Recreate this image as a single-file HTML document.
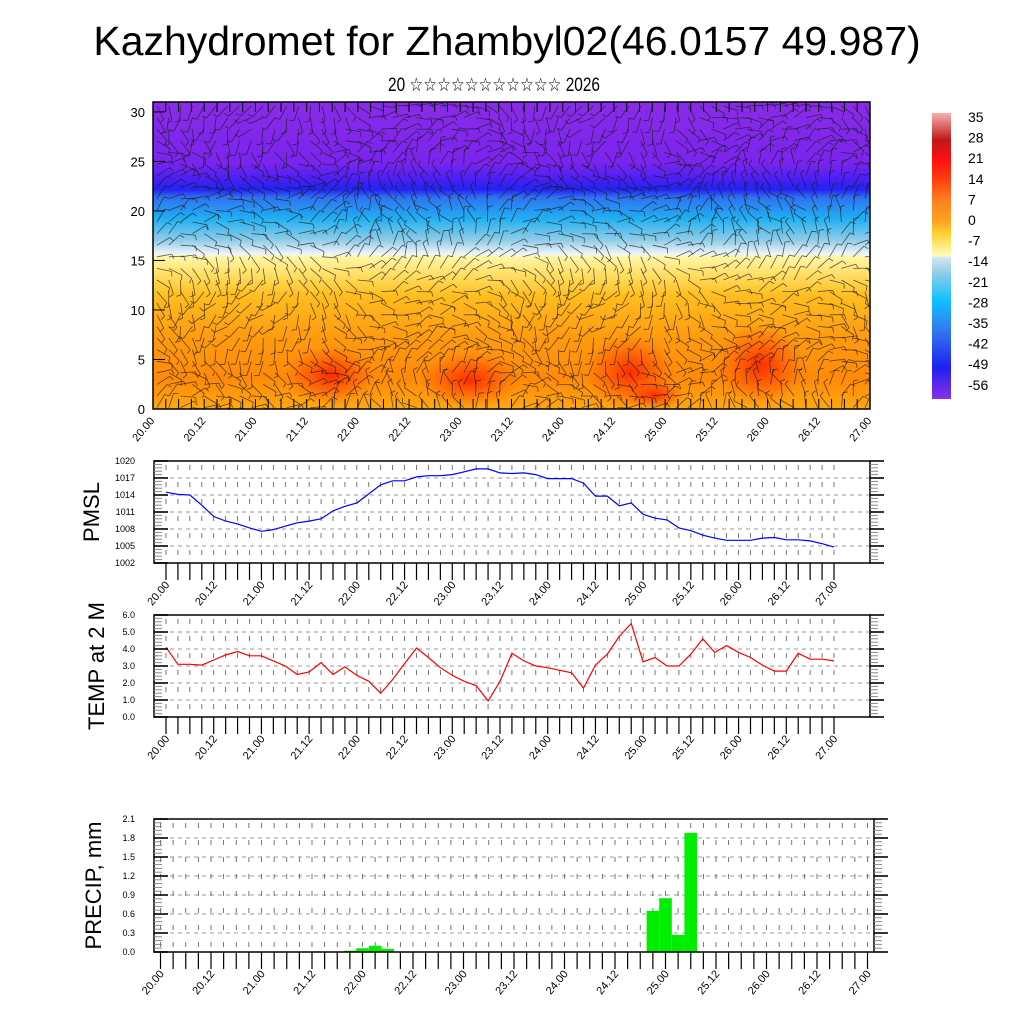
<!DOCTYPE html>
<html><head><meta charset="utf-8"><style>
body{margin:0;background:#fff;}
svg{display:block;font-family:"Liberation Sans","DejaVu Sans",sans-serif;}
</style></head><body>
<svg id="root" width="1024" height="1024" viewBox="0 0 1024 1024" xmlns="http://www.w3.org/2000/svg">
<defs>
<linearGradient id="fieldGrad" x1="0" y1="0" x2="0" y2="1">
<stop offset="0" stop-color="#8a2be6"/><stop offset="0.2" stop-color="#7a24ee"/>
<stop offset="0.25" stop-color="#4a20f4"/><stop offset="0.285" stop-color="#2222f0"/>
<stop offset="0.31" stop-color="#3070f0"/><stop offset="0.38" stop-color="#20b0f2"/>
<stop offset="0.45" stop-color="#90cce8"/><stop offset="0.495" stop-color="#eef6f8"/>
<stop offset="0.505" stop-color="#fff6a8"/><stop offset="0.56" stop-color="#ffe068"/>
<stop offset="0.63" stop-color="#ffbe20"/><stop offset="0.76" stop-color="#ff9c10"/>
<stop offset="0.9" stop-color="#ff8a08"/><stop offset="1" stop-color="#ffa810"/>
</linearGradient>
<radialGradient id="hot"><stop offset="0" stop-color="#ff2000" stop-opacity="0.9"/><stop offset="1" stop-color="#ff4000" stop-opacity="0"/></radialGradient>
<linearGradient id="cbGrad" x1="0" y1="0" x2="0" y2="1">
<stop offset="0" stop-color="#f8b0b0"/><stop offset="0.095" stop-color="#c01818"/>
<stop offset="0.165" stop-color="#ff1010"/><stop offset="0.235" stop-color="#ff4010"/>
<stop offset="0.305" stop-color="#ff8020"/><stop offset="0.375" stop-color="#ffa020"/>
<stop offset="0.42" stop-color="#ffd030"/><stop offset="0.5" stop-color="#fffcc0"/>
<stop offset="0.505" stop-color="#d0e8f4"/><stop offset="0.56" stop-color="#90cce8"/>
<stop offset="0.655" stop-color="#10c0ff"/><stop offset="0.75" stop-color="#3080f0"/>
<stop offset="0.89" stop-color="#2020f0"/><stop offset="1" stop-color="#8a30e8"/>
</linearGradient>
<clipPath id="fieldClip"><rect x="153" y="102" width="717" height="307"/></clipPath>
</defs>
<text x="507" y="55" font-size="41" text-anchor="middle">Kazhydromet for Zhambyl02(46.0157 49.987)</text>
<text x="388" y="91" font-size="19" textLength="212" lengthAdjust="spacingAndGlyphs">20 ☆☆☆☆☆☆☆☆☆☆☆ 2026</text>
<g id="field"></g>
<g id="colorbar"></g>
<g id="pmsl"></g>
<g id="temp"></g>
<g id="precip"></g>
</svg>
<script>
const NS="http://www.w3.org/2000/svg";
const timeLabels=["20.00","20.12","21.00","21.12","22.00","22.12","23.00","23.12","24.00","24.12","25.00","25.12","26.00","26.12","27.00"];
const fieldYTicks=[0,5,10,15,20,25,30];
const cbLabels=["35","28","21","14","7","0","-7","-14","-21","-28","-35","-42","-49","-56"];
const pmslValues=[1014.5,1014.1,1014.0,1012.2,1010.2,1009.4,1008.9,1008.2,1007.6,1007.9,1008.5,1009.1,1009.4,1009.8,1011.2,1012.0,1012.6,1014.2,1015.8,1016.5,1016.5,1017.2,1017.4,1017.4,1017.6,1018.1,1018.6,1018.6,1017.9,1017.8,1017.9,1017.6,1016.9,1016.9,1016.9,1016.1,1013.8,1013.8,1012.1,1012.6,1010.6,1009.9,1009.6,1008.2,1007.7,1006.9,1006.4,1006.0,1006.0,1006.0,1006.4,1006.5,1006.1,1006.1,1005.9,1005.4,1004.8];
const pmslTicks=[1002,1005,1008,1011,1014,1017,1020];
const tempValues=[4.1,3.1,3.1,3.05,3.35,3.65,3.85,3.6,3.6,3.3,3.0,2.5,2.65,3.2,2.5,2.95,2.45,2.1,1.4,2.2,3.15,4.05,3.5,2.9,2.45,2.1,1.85,0.95,2.1,3.75,3.3,3.0,2.9,2.75,2.6,1.7,3.05,3.7,4.75,5.5,3.25,3.5,3.0,3.0,3.7,4.6,3.8,4.2,3.8,3.5,3.05,2.7,2.7,3.75,3.4,3.4,3.3];
const tempTicks=[0,1,2,3,4,5,6];
const precipIndex=[15,16,17,18,39,40,41,42];
const precipValues=[0.02,0.06,0.1,0.05,0.65,0.85,0.27,1.88];
const precipTicks=[0,0.3,0.6,0.9,1.2,1.5,1.8,2.1];

function el(tag,attrs,parent,text){const e=document.createElementNS(NS,tag);for(const k in attrs)e.setAttribute(k,attrs[k]);if(text!==undefined)e.textContent=text;parent.appendChild(e);return e;}

/* ---- cross-section ---- */
(function(){
const g=document.getElementById('field');
const L=153,R=870,T=102,B=409,yMax=31;
const sx=i=>L+(R-L)*i/(timeLabels.length-1);
const sy=v=>B-(B-T)*v/yMax;
const bg=el('rect',{x:L,y:T,width:R-L,height:B-T,fill:'url(#fieldGrad)'},g);


const cg=el('g',{'clip-path':'url(#fieldClip)'},g);
[[330,375,45,30],[470,380,50,28],[630,372,45,38],[760,365,45,40],[655,395,30,15]].forEach(b=>{
 el('ellipse',{cx:b[0],cy:b[1],rx:b[2],ry:b[3],fill:'url(#hot)'},cg);});
// decorative wind barb texture
const wg=el('g',{stroke:'#1a1a1a','stroke-width':'0.8','stroke-opacity':'0.7'},cg);


for(let j=0;j<27;j++){for(let i=0;i<61;i++){
 const x=L+4+i*11.8, y=T+4+j*11.6;
 const a=Math.sin(i*0.21)*1.3+Math.cos(j*0.35)*1.1+Math.sin((i*j)%7)*0.5;
 const len=15;
 const x2=x+Math.cos(a)*len,y2=y+Math.sin(a)*len;
 el('line',{x1:x.toFixed(1),y1:y.toFixed(1),x2:x2.toFixed(1),y2:y2.toFixed(1)},wg);
 const bx=x2+Math.cos(a+1.3)*5,by=y2+Math.sin(a+1.3)*5;
 el('line',{x1:x2.toFixed(1),y1:y2.toFixed(1),x2:bx.toFixed(1),y2:by.toFixed(1)},wg);
}}
el('rect',{x:L,y:T,width:R-L,height:B-T,fill:'none',stroke:'#000','stroke-width':'1.5'},g);
for(let k=0;k<=56;k++){const x=L+(R-L)*k/56;
 el('line',{x1:x,y1:B,x2:x,y2:B-10,stroke:'#000'},g);el('line',{x1:x,y1:T,x2:x,y2:T+10,stroke:'#000'},g);}
fieldYTicks.forEach(v=>{const y=sy(v);
 el('line',{x1:L,y1:y,x2:L+12,y2:y,stroke:'#000'},g);
 const t=el('text',{x:145,y:y+5,'font-size':'13','text-anchor':'end'},g,String(v));
 });
timeLabels.forEach((s,i)=>{const x=sx(i);
 const t=el('text',{x:x+2,y:421,'font-size':'11','text-anchor':'end',transform:`rotate(-50 ${x+2} 421)`},g,s);
 });
})();

/* ---- colorbar ---- */
(function(){
const g=document.getElementById('colorbar');
const r=el('rect',{x:932,y:113,width:19,height:286,fill:'url(#cbGrad)'},g);

cbLabels.forEach((s,i)=>{const y=122+i*20.6;
 const t=el('text',{x:968,y:y,'font-size':'14'},g,s);
 });
})();

/* ---- generic lower panel ---- */
function panel(gid,o){
 const g=document.getElementById(gid);
 const sx=k=>o.x0+(o.x1-o.x0)*k/56;
 const sy=v=>o.B-(o.B-o.T)*(v-o.vmin)/(o.vmax-o.vmin);
 o.ticks.forEach(v=>{const y=sy(v);
  if(v!==o.vmin&&v!==o.vmax) el('line',{x1:o.L,y1:y,x2:o.R,y2:y,stroke:'#777','stroke-dasharray':'4,4','stroke-width':'0.8'},g);});
 for(let k=0;k<=56;k++){const x=sx(k);
  el('line',{x1:x,y1:o.T+4,x2:x,y2:o.B,stroke:'#555','stroke-dasharray':'5,12','stroke-width':'0.8'},g);
  el('line',{x1:x,y1:o.B,x2:x,y2:o.B+17,stroke:'#000','stroke-width':'1.2'},g);}
 if(o.draw) o.draw(g,sx,sy);
 el('rect',{x:o.L,y:o.T,width:o.R-o.L,height:o.B-o.T,fill:'none',stroke:'#000','stroke-width':'1.5'},g);
 const n=o.ticks.length-1;
 for(let m=0;m<=n*5;m++){const v=o.vmin+(o.vmax-o.vmin)*m/(n*5);const y=sy(v);const major=m%5===0;
  el('line',{x1:o.L+(major?14:8),y1:y,x2:o.L,y2:y,stroke:major?'#000':'#888','stroke-width':major?'1.6':'1'},g);
  el('line',{x1:o.R,y1:y,x2:o.R+(major?14:8),y2:y,stroke:major?'#000':'#888','stroke-width':major?'1.6':'1'},g);}
 o.ticks.forEach(v=>{const t=el('text',{x:o.L-19,y:sy(v)+3,'font-size':'9','text-anchor':'end'},g,o.fmt(v));
  });
 timeLabels.forEach((s,i)=>{const x=sx(i*4);const y=o.B+22;
  const t=el('text',{x:x+4,y:y,'font-size':'11','text-anchor':'end',transform:`rotate(-50 ${x+4} ${y})`},g,s);
  });
 const cy=(o.T+o.B)/2;
 const tt=el('text',{x:o.tx,y:cy,'font-size':'22','text-anchor':'middle',transform:`rotate(-90 ${o.tx} ${cy})`},g,o.title);
 
}

panel('pmsl',{L:154,R:870,T:461,B:563,x0:166,x1:834,vmin:1002,vmax:1020,ticks:pmslTicks,fmt:v=>String(v),tx:99,title:'PMSL',
 draw:(g,sx,sy)=>{const p=el('polyline',{points:pmslValues.map((v,k)=>sx(k).toFixed(1)+','+sy(v).toFixed(1)).join(' '),fill:'none',stroke:'#0000ff','stroke-width':'1.2'},g);
 }});

panel('temp',{L:154,R:870,T:615,B:717,x0:166,x1:834,vmin:0,vmax:6,ticks:tempTicks,fmt:v=>v.toFixed(1),tx:104,title:'TEMP at 2 M',
 draw:(g,sx,sy)=>{const p=el('polyline',{points:tempValues.map((v,k)=>sx(k).toFixed(1)+','+sy(v).toFixed(1)).join(' '),fill:'none',stroke:'#ff0000','stroke-width':'1.2'},g);
 }});

panel('precip',{L:154,R:874,T:819,B:952,x0:160.5,x1:867.5,vmin:0,vmax:2.1,ticks:precipTicks,fmt:v=>v.toFixed(1),tx:101,title:'PRECIP, mm',
 draw:(g,sx,sy)=>{const w=(867.5-160.5)/56;
 precipIndex.forEach((k,i)=>{const x=sx(k)-w/2,y=sy(precipValues[i]);
  const b=el('rect',{x:x.toFixed(1),y:y.toFixed(1),width:w.toFixed(1),height:(sy(0)-y).toFixed(1),fill:'#00ee00'},g);
  });}});
</script>
</body></html>
